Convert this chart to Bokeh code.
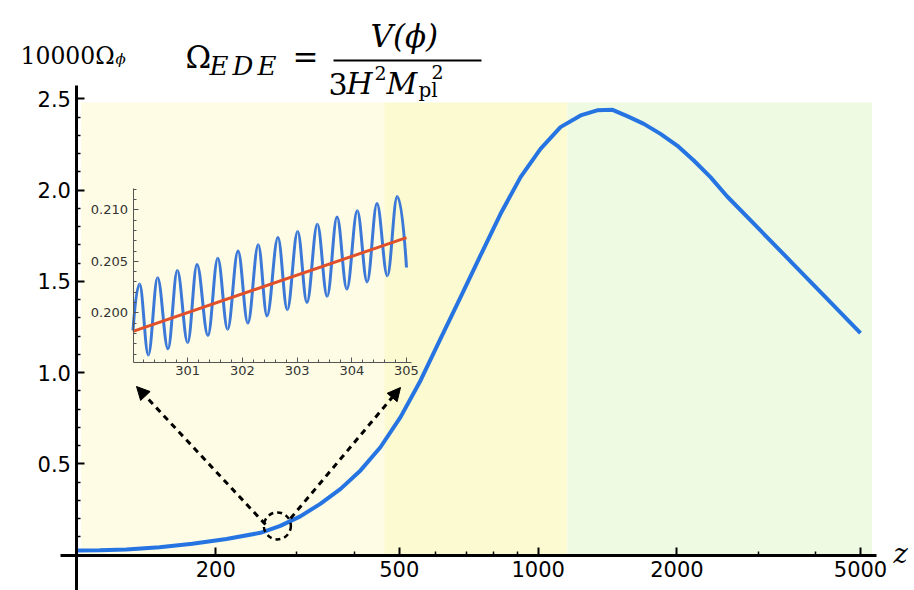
import math

from bokeh.embed import file_html
from bokeh.models import (Arrow, BoxAnnotation, FixedTicker, Label, LinearAxis,
                          LinearScale, LogAxis, NormalHead, NumeralTickFormatter,
                          Range1d)
from bokeh.plotting import figure
from bokeh.resources import INLINE

# ---------------------------------------------------------------- data
# redshift z and 10000 * Omega_phi along the main curve
Z = [100, 112, 128, 151, 178, 211, 250, 276, 305, 337, 373, 412, 455, 503,
     556, 614, 679, 750, 829, 916, 1012, 1118, 1236, 1343, 1450, 1560, 1695,
     1842, 2002, 2175, 2364, 2570, 3034, 3583, 4234, 5000]
OMEGA = [0.025, 0.026, 0.031, 0.043, 0.062, 0.088, 0.122, 0.160, 0.212,
         0.281, 0.363, 0.464, 0.591, 0.756, 0.957, 1.185, 1.413, 1.642,
         1.870, 2.071, 2.226, 2.345, 2.409, 2.437, 2.440, 2.405, 2.363,
         2.308, 2.244, 2.162, 2.071, 1.965, 1.779, 1.592, 1.404, 1.216]

# shaded epochs (z edges) and their colours
BAND_LEFT = [102, 464, 1158]
BAND_RIGHT = [464, 1158, 5300]
BAND_COLORS = ["#FEFCE4", "#FBFAD0", "#EEFBE2"]
BAND_TOP = 2.48

# zoomed window: oscillation extrema between z = 300 and z = 305
INSET_START = (300.0, 0.1983)
INSET_END = (305.0, 0.2044)
PEAK_Z = [300.12, 300.45, 300.81, 301.17, 301.55, 301.92, 302.29, 302.65,
          303.01, 303.37, 303.73, 304.10, 304.46, 304.83]
PEAK_Y = [0.2028, 0.2034, 0.2041, 0.2047, 0.2053, 0.2060, 0.2066, 0.2073,
          0.2079, 0.2086, 0.2093, 0.2099, 0.2106, 0.2113]
TROUGH_Z = [300.28, 300.64, 301.00, 301.37, 301.73, 302.10, 302.45, 302.82,
            303.18, 303.55, 303.91, 304.28, 304.65]
TROUGH_Y = [0.1959, 0.1965, 0.1971, 0.1978, 0.1984, 0.1990, 0.1997, 0.2003,
            0.2010, 0.2016, 0.2023, 0.2030, 0.2036]
# smooth background trend in the zoomed window
TREND_Z = [300.0, 305.0]
TREND_Y = [0.1982, 0.2073]

# ticks
Z_TICKS = [200, 500, 1000, 2000, 5000]
Z_MINOR = [300, 400, 600, 700, 800, 900, 3000, 4000]
Y_TICKS = [0.5, 1.0, 1.5, 2.0, 2.5]
Y_MINOR = [round(0.1 * i, 1) for i in range(1, 25) if i % 5]
INSET_X_TICKS = [301, 302, 303, 304, 305]
INSET_X_MINOR = [round(300 + 0.2 * i, 1) for i in range(1, 26) if i % 5]
INSET_Y_TICKS = [0.200, 0.205, 0.210]
INSET_Y_MINOR = [round(0.196 + 0.001 * i, 3) for i in range(0, 17)
                 if round(0.196 + 0.001 * i, 3) not in (0.200, 0.205, 0.210)]

# ---------------------------------------------------------------- layout
W, H = 914, 590
# main axes calibration (pixels on the canvas)
PX_Z5000, PX_PER_DECADE = 860.0, 461.2
PY_ZERO, PX_PER_UNIT = 554.6, 182.5
# zoom-window calibration
PX_Z300, PX_PER_Z = 132.5, 54.7
PY_0200, PX_PER_MILLI = 312.3, 10.3

lz = math.log10(5000)
x_lo = 10 ** (lz - PX_Z5000 / PX_PER_DECADE)
x_hi = 10 ** (lz + (W - PX_Z5000) / PX_PER_DECADE)
y_lo = -(H - PY_ZERO) / PX_PER_UNIT
y_hi = PY_ZERO / PX_PER_UNIT

ix_lo = 300 - PX_Z300 / PX_PER_Z
ix_hi = ix_lo + W / PX_PER_Z
iy_lo = 0.200 - (H - PY_0200) * 0.001 / PX_PER_MILLI
iy_hi = 0.200 + PY_0200 * 0.001 / PX_PER_MILLI


def sy(py):
    """canvas row (from top) -> screen units (from bottom)"""
    return H - py


p = figure(width=W, height=H, x_axis_type="log",
           x_range=Range1d(x_lo, x_hi), y_range=Range1d(y_lo, y_hi),
           x_axis_location=None, y_axis_location=None,
           output_backend="svg", toolbar_location=None, min_border=0)
p.outline_line_color = None
p.background_fill_color = "white"
p.border_fill_color = "white"
p.grid.visible = False

p.extra_x_ranges = {"ix": Range1d(ix_lo, ix_hi)}
p.extra_y_ranges = {"iy": Range1d(iy_lo, iy_hi)}
p.extra_x_scales = {"ix": LinearScale()}
p.extra_y_scales = {"iy": LinearScale()}

# epoch shading
p.quad(left=BAND_LEFT, right=BAND_RIGHT, bottom=0, top=BAND_TOP,
       fill_color=BAND_COLORS, line_color=None)

# main curve
p.line(Z, OMEGA, line_color="#2574E2", line_width=4, line_join="round")

# zoomed oscillation: half-cycles between successive extrema
seq = [INSET_START]
for i in range(len(PEAK_Z)):
    seq.append((PEAK_Z[i], PEAK_Y[i]))
    if i < len(TROUGH_Z):
        seq.append((TROUGH_Z[i], TROUGH_Y[i]))
seq.append(INSET_END)

bx0, by0, bx1, by1, bcx0, bcy0, bcx1, bcy1 = ([] for _ in range(8))
K = 0.36
for i in range(len(seq) - 1):
    (x0, y0), (x1, y1) = seq[i], seq[i + 1]
    dx = x1 - x0
    c0 = (x0 + K * dx, y0)
    c1 = (x1 - K * dx, y1)
    if i == 0:
        c0 = (x0 + 0.3 * dx, y0 + 0.6 * (y1 - y0))
    if i == len(seq) - 2:
        c1 = (x1 - 0.3 * dx, y1 + 0.6 * (y0 - y1))
    bx0.append(x0); by0.append(y0); bx1.append(x1); by1.append(y1)
    bcx0.append(c0[0]); bcy0.append(c0[1]); bcx1.append(c1[0]); bcy1.append(c1[1])

p.bezier(x0=bx0, y0=by0, x1=bx1, y1=by1, cx0=bcx0, cy0=bcy0, cx1=bcx1, cy1=bcy1,
         line_color="#3B78D8", line_width=3,
         x_range_name="ix", y_range_name="iy")
p.line(TREND_Z, TREND_Y, line_color="#E0502A", line_width=3,
       x_range_name="ix", y_range_name="iy")

# dashed circle marking the zoomed region
p.scatter([272], [0.16], marker="circle", size=27, fill_color=None,
          line_color="black", line_width=2.5, line_dash="5 4")

# dashed arrows towards the zoom window
for xs, ys, xe, ye in [(265, 524, 136, 386), (290, 518, 400, 387)]:
    p.add_layout(Arrow(x_start=xs, y_start=sy(ys), x_end=xe, y_end=sy(ye),
                       start_units="screen", end_units="screen",
                       line_color="black", line_width=3, line_dash="6 5",
                       end=NormalHead(size=13, fill_color="black",
                                      line_color="black", line_width=1)))

# ---------------------------------------------------------------- axes
main_style = dict(axis_line_width=3, axis_line_color="black",
                  major_tick_line_width=2, major_tick_in=8, major_tick_out=0,
                  minor_tick_line_width=1.5, minor_tick_in=4, minor_tick_out=0,
                  major_label_text_font="DejaVu Sans",
                  major_label_text_font_size="21px",
                  major_label_text_color="black")

xax = LogAxis(fixed_location=0, bounds=(92.1, 5416),
              ticker=FixedTicker(ticks=Z_TICKS, minor_ticks=Z_MINOR),
              formatter=NumeralTickFormatter(format="0"),
              major_label_standoff=6, **main_style)
p.add_layout(xax, "below")

yax = LinearAxis(fixed_location=100, bounds=(y_lo, 2.573),
                 ticker=FixedTicker(ticks=Y_TICKS, minor_ticks=Y_MINOR),
                 formatter=NumeralTickFormatter(format="0.0"),
                 major_label_standoff=6, **main_style)
p.add_layout(yax, "left")

inset_style = dict(axis_line_width=1, axis_line_color="#555555",
                   major_tick_line_width=1, major_tick_line_color="#555555",
                   major_tick_in=5, major_tick_out=0,
                   minor_tick_line_width=1, minor_tick_line_color="#555555",
                   minor_tick_in=3, minor_tick_out=0,
                   major_label_text_font="DejaVu Sans",
                   major_label_text_font_size="13px",
                   major_label_text_color="#333333",
                   x_range_name="ix", y_range_name="iy")

iax = LinearAxis(fixed_location=0.1952, bounds=(300, 305.1),
                 ticker=FixedTicker(ticks=INSET_X_TICKS, minor_ticks=INSET_X_MINOR),
                 formatter=NumeralTickFormatter(format="0"),
                 major_label_standoff=4, **inset_style)
p.add_layout(iax, "below")

iyx = LinearAxis(fixed_location=300, bounds=(0.1952, 0.2121),
                 ticker=FixedTicker(ticks=INSET_Y_TICKS, minor_ticks=INSET_Y_MINOR),
                 formatter=NumeralTickFormatter(format="0.000"),
                 major_label_standoff=5, **inset_style)
p.add_layout(iyx, "left")

# ---------------------------------------------------------------- texts
SERIF = "DejaVu Serif"
LIFT = 10  # alphabetic baselines sit this much lower in the svg output


def label(text, x, base, size, italic=False):
    p.add_layout(Label(x=x, y=sy(base - LIFT), x_units="screen", y_units="screen",
                       text=text, text_font=SERIF, text_font_size=f"{size}px",
                       text_font_style="italic" if italic else "normal",
                       text_baseline="alphabetic", text_align="left",
                       text_color="black"))


# axis titles
label("10000Ω", 20, 65, 23.5)
label("ϕ", 115, 68, 15, italic=True)
label("z", 893, 563, 27, italic=True)

# Omega_EDE = V(phi) / (3 H^2 M_pl^2)
label("Ω", 185, 66, 31)
label("E", 209, 75, 26, italic=True)
label("D", 232, 75, 26, italic=True)
label("E", 257, 75, 26, italic=True)
label("=", 292, 66, 31)
label("V(ϕ)", 370, 45, 31, italic=True)
p.add_layout(BoxAnnotation(left=333, right=481, bottom=sy(61), top=sy(59),
                           left_units="screen", right_units="screen",
                           bottom_units="screen", top_units="screen",
                           fill_color="black", fill_alpha=1, line_color=None))
label("3", 328, 93, 30)
label("H", 346, 93, 30, italic=True)
label("2", 374, 82, 19)
label("M", 386, 93, 30, italic=True)
label("pl", 418, 99, 20)
label("2", 431, 81, 19)

open("out.html", "w").write(file_html(p, INLINE))
